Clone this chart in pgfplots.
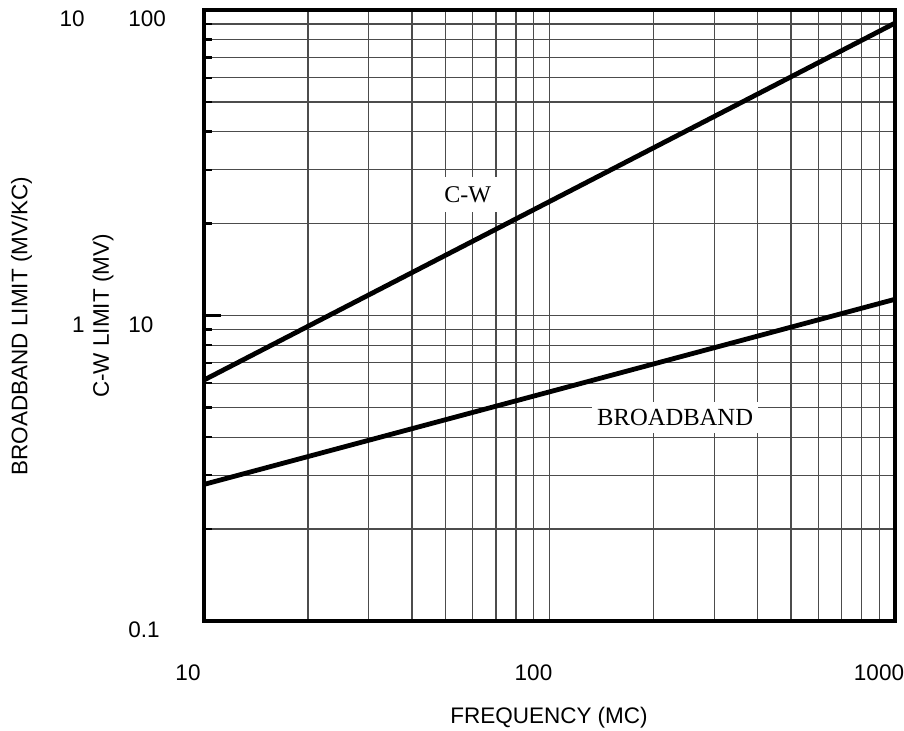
\documentclass[border=0pt]{standalone}
\usepackage{fontspec}
\setmainfont{Liberation Sans}
\newfontfamily\seriffont{Liberation Serif}
\usepackage{pgfplots}
\pgfplotsset{compat=1.18}
\newcommand\lbl{\fontsize{11.25}{13.5}\selectfont}
\begin{document}
\begin{tikzpicture}
\useasboundingbox (0,0) rectangle (452pt,365pt);
% main axis: C-W scale (MV)
\begin{axis}[
  at={(102pt,54.5pt)}, anchor=south west,
  scale only axis, width=345.5pt, height=305.5pt,
  xmode=log, ymode=log,
  xmin=10, xmax=1000, ymin=1, ymax=100,
  xtick={10,100,1000}, xticklabels={10,100,1000},
  ytick={1,10,100}, yticklabels={0.1,10,100},
  grid=both,
  major grid style={black!70, line width=0.55pt},
  minor grid style={black!70, line width=0.55pt},
  axis line style={line width=2pt},
  xtick style={black!70, line width=0.55pt},
  ytick style={black, line width=1.2pt},
  ytick pos=left,
  major tick length=8.5pt, minor tick length=4pt,
  xticklabel style={font=\lbl, anchor=center, yshift=-26pt, xshift=-8pt},
  yticklabel style={font=\lbl, anchor=west, inner sep=0pt, xshift=-38pt, yshift=-4.5pt},
]
\addplot[black, line width=2.4pt] coordinates {(10,6.15) (1000,90.6)};
\node[fill=white, inner sep=0pt, minimum width=30pt, minimum height=17.5pt,
      font=\seriffont\fontsize{12}{14}\selectfont] at (axis cs:58,24.9) {C-W};
\end{axis}
% second axis: broadband scale (MV/KC)
\begin{axis}[
  at={(102pt,54.5pt)}, anchor=south west,
  scale only axis, width=345.5pt, height=305.5pt,
  xmode=log, ymode=log,
  xmin=10, xmax=1000, ymin=0.1, ymax=10,
  axis line style={draw=none},
  xtick=\empty, ytick={1,10}, yticklabels={1,10},
  tick style={draw=none},
  yticklabel style={font=\lbl, anchor=east, inner sep=0pt, xshift=-59.5pt, yshift=-4.5pt},
]
\addplot[black, line width=2.4pt] coordinates {(10,0.28) (1000,1.13)};
\node[fill=white, inner sep=0pt, minimum width=83pt, minimum height=15.5pt,
      font=\seriffont\fontsize{12.3}{14}\selectfont] at (axis cs:231,0.463) {BROADBAND};
\end{axis}
\node[rotate=90, font=\lbl] at (10.75pt,202pt) {BROADBAND LIMIT (MV/KC)};
\node[rotate=90, font=\lbl] at (51.5pt,207pt) {C-W LIMIT (MV)};
\node[font=\lbl] at (274.5pt,6pt) {FREQUENCY (MC)};
\end{tikzpicture}
\end{document}
